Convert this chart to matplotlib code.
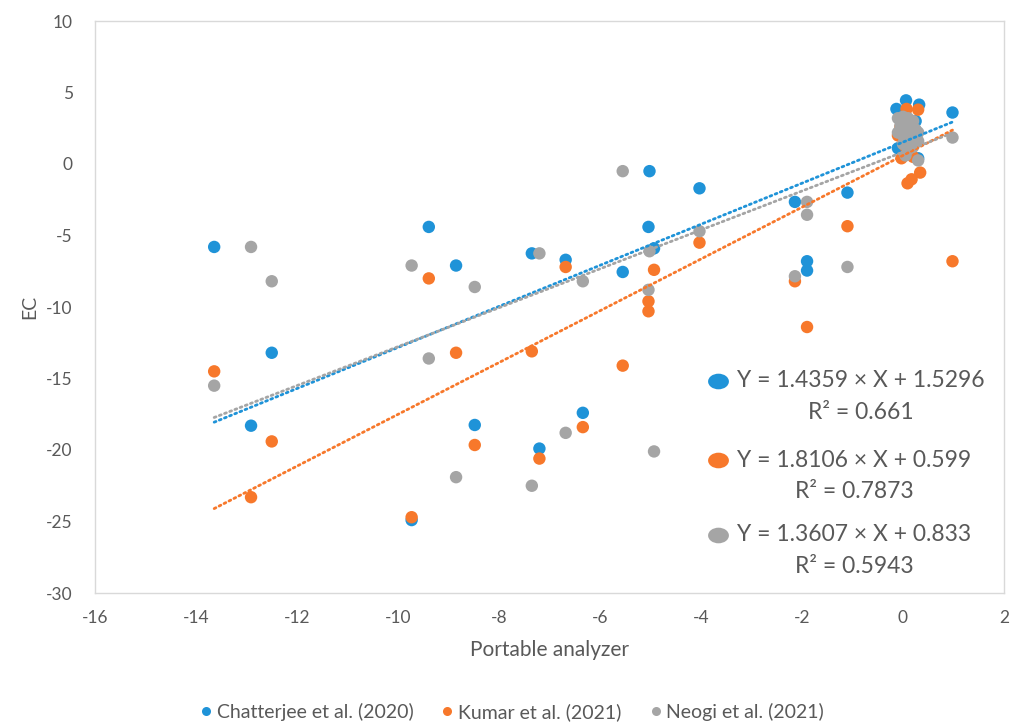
import matplotlib
matplotlib.use("Agg")
import matplotlib.pyplot as plt
from matplotlib.lines import Line2D
from matplotlib.path import Path
from matplotlib.transforms import Affine2D

BLUE = "#1F93D8"; ORANGE = "#F7782B"; GREY = "#A5A5A5"; TXT = "#595959"
plt.rcParams['font.family'] = ['Lato', 'DejaVu Sans']
plt.rcParams['axes.unicode_minus'] = False

series_names = ["Chatterjee et al. (2020)", "Kumar et al. (2021)", "Neogi et al. (2021)"]

# Chatterjee et al. (2020)
chat_x = [-13.64, -12.91, -12.5, -9.73, -9.39, -8.85, -8.48, -7.35, -7.2, -6.68, -6.34,
          -5.55, -5.02, -5.04, -4.93, -4.03, -2.14, -1.9, -1.9, -1.1, 0.98,
          0.06, 0.32, -0.13, -0.1, 0.0, 0.1, 0.25, 0.3]
chat_y = [-5.8, -18.3, -13.2, -24.9, -4.4, -7.1, -18.25, -6.25, -19.9, -6.7, -17.4,
          -7.55, -0.5, -4.4, -5.9, -1.7, -2.65, -6.8, -7.45, -2.0, 3.6,
          4.45, 4.15, 3.85, 1.1, 0.6, 2.8, 3.0, 0.4]
# Kumar et al. (2021)
kum_x = [-13.64, -12.91, -12.5, -9.73, -9.39, -8.85, -8.48, -7.35, -7.2, -6.68, -6.34,
         -5.55, -5.04, -5.04, -4.93, -4.03, -2.14, -1.9, -1.1, 0.98,
         0.09, 0.17, 0.34, 0.07, 0.3, -0.03, -0.1, 0.05, 0.2, -0.05]
kum_y = [-14.5, -23.3, -19.4, -24.7, -8.0, -13.2, -19.65, -13.1, -20.6, -7.2, -18.4,
         -14.1, -9.6, -10.3, -7.4, -5.5, -8.2, -11.4, -4.35, -6.8,
         -1.35, -1.07, -0.6, 3.85, 3.8, 0.4, 2.0, 1.2, 0.5, 2.6]
# Neogi et al. (2021)
neo_x = [-13.64, -12.91, -12.5, -9.73, -9.39, -8.85, -8.48, -7.35, -7.2, -6.68, -6.34,
         -5.55, -5.02, -5.04, -4.93, -4.03, -2.14, -1.9, -1.9, -1.1, 0.98,
         -0.1, 0.0, 0.1, 0.2, -0.05, 0.05, 0.15, 0.25, -0.1, 0.0, 0.1, 0.2, 0.3,
         0.0, 0.1, 0.2, 0.3, 0.05, 0.3]
neo_y = [-15.5, -5.8, -8.2, -7.1, -13.6, -21.9, -8.6, -22.5, -6.25, -18.8, -8.2,
         -0.5, -6.1, -8.8, -20.1, -4.7, -7.85, -2.65, -3.55, -7.2, 1.85,
         3.2, 3.3, 3.2, 3.0, 2.7, 2.5, 2.6, 2.4, 2.2, 2.0, 1.8, 1.9, 2.2,
         1.4, 1.0, 1.2, 0.25, 0.6, 1.6]

# linear trendline coefficients shown on the chart
slopes = [1.4359, 1.8106, 1.3607]
intercepts = [1.5296, 0.599, 0.833]
r2 = [0.661, 0.7873, 0.5943]
colors = [BLUE, ORANGE, GREY]

fig = plt.figure(figsize=(10.17, 7.22), dpi=100)
ax = fig.add_axes([95/1017, 129/722, 909/1017, 572/722])

xs = [chat_x, kum_x, neo_x]
ys = [chat_y, kum_y, neo_y]
for x, y, c in zip(xs, ys, colors):
    ax.scatter(x, y, s=80, color=c, edgecolors="none", zorder=2)

for x, m, b, c in zip(xs, slopes, intercepts, colors):
    x0, x1 = min(x), max(x)
    ax.plot([x0, x1], [m*x0 + b, m*x1 + b], color=c, lw=2.0,
            linestyle=(0, (0.7, 1.3)), dash_capstyle="round", zorder=3)

ax.set_xlim(-16, 2); ax.set_ylim(-30, 10)
ax.set_xticks(range(-16, 3, 2)); ax.set_yticks(range(-30, 11, 5))
ax.tick_params(length=0, labelsize=12.5, labelcolor=TXT)
ax.tick_params(axis="x", pad=12)
ax.tick_params(axis="y", pad=16)
for s in ax.spines.values():
    s.set_color("#D9D9D9"); s.set_linewidth(1.0)

ax.set_xlabel("Portable analyzer", fontsize=15, color=TXT)
ax.set_ylabel("EC", fontsize=14, color=TXT)
ax.xaxis.set_label_coords(0.5, -0.082)
ax.yaxis.set_label_coords(-0.062, 0.5)

# equation labels (flattened dot + left-aligned equation, R² centred below)
oval = Path.unit_circle().transformed(Affine2D().scale(1.0, 0.75))
eq_y = [0.371, 0.2325, 0.1014]
for ya, m, b, r, c in zip(eq_y, slopes, intercepts, r2, colors):
    t = ax.text(0.706, ya, f"Y = {m} \u00d7 X + {b}", transform=ax.transAxes, fontsize=16.5,
                color=TXT, ha="left", va="center")
    ax.annotate(f"R\u00b2 = {r}", xy=(0.5, 0.5), xycoords=t, xytext=(0, -22.5),
                textcoords="offset points", fontsize=16.5, color=TXT, ha="center", va="center")
    ax.plot([0.685], [ya], marker=oval, ms=15, color=c, mec="none", transform=ax.transAxes,
            clip_on=False)

handles = [Line2D([], [], marker="o", ls="none", ms=6.5, color=c, mec="none") for c in colors]
fig.legend(handles, series_names, loc="center", bbox_to_anchor=(0.504, 0.014), ncol=3,
           frameon=False, fontsize=14, labelcolor=TXT, handlelength=0.5, handletextpad=0.3,
           columnspacing=1.5)

fig.savefig("out.png", dpi=100)
